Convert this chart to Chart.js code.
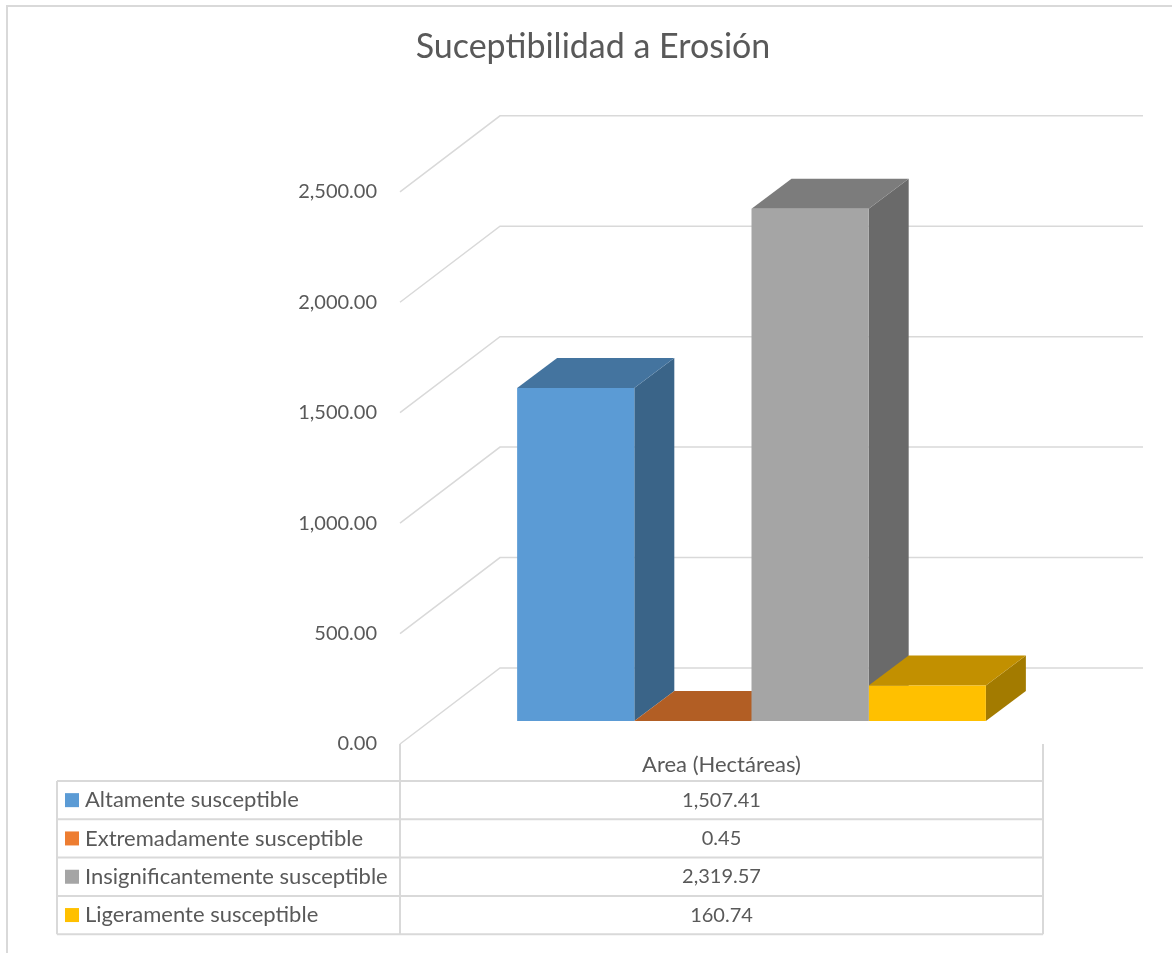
<!DOCTYPE html>
<html lang="es">
<head>
    <meta charset="UTF-8">
    <title>Suceptibilidad a Erosión</title>
    <script src="https://cdn.jsdelivr.net/npm/chart.js"></script>
    <style>
        html, body {
            margin: 0;
            padding: 0;
            background: #fff;
        }
        .frame {
            position: absolute;
            left: 6px;
            top: 5px;
            width: 1200px;
            height: 1000px;
            border: 2px solid #d9d9d9;
        }
        #erosionChart {
            position: absolute;
            left: 0;
            top: 0;
        }
    </style>
</head>
<body>
    <div class="frame"></div>
    <canvas id="erosionChart" width="1172" height="953"></canvas>

    <script>
        const categories = ['Area (Hectáreas)'];
        const seriesNames = ['Altamente susceptible', 'Extremadamente susceptible', 'Insignificantemente susceptible', 'Ligeramente susceptible'];
        const areaValues = [1507.41, 0.45, 2319.57, 160.74];
        const yTicks = [0, 500, 1000, 1500, 2000, 2500];

        const frontColors = ['#5b9bd5', '#ed7d31', '#a5a5a5', '#ffc000'];
        const topColors = ['#44749f', '#b25e24', '#7c7c7c', '#c29000'];
        const sideColors = ['#3a6488', '#9a5120', '#6a6a6a', '#a37b00'];

        const textColor = '#595959';
        const lineColor = '#d9d9d9';
        const fontFamily = 'Lato, "Open Sans", sans-serif';

        // fake perspective offsets, relative to the plane of the bar fronts
        const FRONT = { dx: -30, dy: 23 };
        const WALL = { dx: 70, dy: -53 };
        const DEPTH = { dx: 40, dy: -30 };

        const fmt = v => v.toLocaleString('en-US', { minimumFractionDigits: 2, maximumFractionDigits: 2 });

        const depth3d = {
            id: 'depth3d',
            beforeDatasetsDraw(chart) {
                const { ctx, chartArea, scales: { y } } = chart;
                ctx.save();

                // walls: diagonal from front edge then flat along back wall
                ctx.strokeStyle = lineColor;
                ctx.lineWidth = 1.5;
                yTicks.forEach(v => {
                    const py = y.getPixelForValue(v);
                    ctx.beginPath();
                    ctx.moveTo(chartArea.left + FRONT.dx, py + FRONT.dy);
                    ctx.lineTo(chartArea.left + WALL.dx, py + WALL.dy);
                    ctx.lineTo(chartArea.right + WALL.dx, py + WALL.dy);
                    ctx.stroke();
                });

                // side and top faces, left to right
                chart.data.datasets.forEach((ds, i) => {
                    const bar = chart.getDatasetMeta(i).data[0];
                    const left = bar.x - bar.width / 2;
                    const right = bar.x + bar.width / 2;
                    const top = Math.min(bar.y, bar.base);
                    const bottom = Math.max(bar.y, bar.base);

                    ctx.fillStyle = sideColors[i];
                    ctx.beginPath();
                    ctx.moveTo(right, top);
                    ctx.lineTo(right + DEPTH.dx, top + DEPTH.dy);
                    ctx.lineTo(right + DEPTH.dx, bottom + DEPTH.dy);
                    ctx.lineTo(right, bottom);
                    ctx.closePath();
                    ctx.fill();

                    ctx.fillStyle = topColors[i];
                    ctx.beginPath();
                    ctx.moveTo(left, top);
                    ctx.lineTo(right, top);
                    ctx.lineTo(right + DEPTH.dx, top + DEPTH.dy);
                    ctx.lineTo(left + DEPTH.dx, top + DEPTH.dy);
                    ctx.closePath();
                    ctx.fill();
                });
                ctx.restore();
            }
        };

        const dataTable = {
            id: 'dataTable',
            afterDraw(chart) {
                const { ctx, chartArea, scales: { y } } = chart;
                const colLeft = chartArea.left + FRONT.dx;
                const colRight = chartArea.right + FRONT.dx;
                const colMid = (colLeft + colRight) / 2;
                const tableLeft = 57;
                const headTop = y.getPixelForValue(0) + FRONT.dy;
                const headBottom = headTop + 37;
                const rowH = 38.3;
                const tableBottom = headBottom + rowH * seriesNames.length;

                ctx.save();
                ctx.strokeStyle = lineColor;
                ctx.lineWidth = 2;
                ctx.beginPath();
                ctx.moveTo(colLeft, headTop);
                ctx.lineTo(colLeft, tableBottom);
                ctx.moveTo(colRight, headTop);
                ctx.lineTo(colRight, tableBottom);
                ctx.moveTo(tableLeft, headBottom);
                ctx.lineTo(tableLeft, tableBottom);
                for (let r = 0; r <= seriesNames.length; r++) {
                    const ly = headBottom + r * rowH;
                    ctx.moveTo(tableLeft, ly);
                    ctx.lineTo(colRight, ly);
                }
                ctx.stroke();

                ctx.fillStyle = textColor;
                ctx.textBaseline = 'middle';
                ctx.textAlign = 'center';
                ctx.font = '22px ' + fontFamily;
                ctx.fillText(categories[0], colMid, (headTop + headBottom) / 2 + 2);

                seriesNames.forEach((name, i) => {
                    const cy = headBottom + rowH * i + rowH / 2;
                    ctx.fillStyle = frontColors[i];
                    ctx.fillRect(65, cy - 7, 14, 14);
                    ctx.fillStyle = textColor;
                    ctx.textAlign = 'left';
                    ctx.font = '22px ' + fontFamily;
                    ctx.fillText(name, 85, cy);
                    ctx.textAlign = 'center';
                    ctx.font = '20px ' + fontFamily;
                    ctx.fillText(fmt(areaValues[i]), colMid, cy);
                });
                ctx.restore();
            }
        };

        const ctx = document.getElementById('erosionChart').getContext('2d');
        const erosionChart = new Chart(ctx, {
            type: 'bar',
            data: {
                labels: categories,
                datasets: seriesNames.map((name, i) => ({
                    label: name,
                    data: [areaValues[i]],
                    backgroundColor: frontColors[i],
                    borderWidth: 0,
                    categoryPercentage: 0.729,
                    barPercentage: 1
                }))
            },
            options: {
                responsive: false,
                animation: false,
                layout: {
                    padding: { left: 14, right: 0, top: 0, bottom: 232 }
                },
                scales: {
                    x: { display: false },
                    y: {
                        min: 0,
                        max: 2500,
                        border: { display: false },
                        grid: { display: false, drawTicks: false },
                        afterFit(scale) { scale.width = 416; },
                        ticks: {
                            stepSize: 500,
                            padding: 53,
                            labelOffset: 23,
                            color: textColor,
                            font: { family: fontFamily, size: 20 },
                            callback: v => fmt(v)
                        }
                    },
                    // empty right axis keeps room for the back wall
                    yRight: {
                        position: 'right',
                        min: 0,
                        max: 2500,
                        border: { display: false },
                        grid: { display: false, drawTicks: false },
                        ticks: { display: false },
                        afterFit(scale) { scale.width = 99; }
                    }
                },
                plugins: {
                    legend: { display: false },
                    tooltip: { enabled: false },
                    title: {
                        display: true,
                        text: 'Suceptibilidad a Erosión',
                        color: textColor,
                        font: { family: fontFamily, size: 34, weight: 'normal' },
                        padding: { top: 27, bottom: 101 }
                    }
                }
            },
            plugins: [depth3d, dataTable]
        });
    </script>
</body>
</html>
